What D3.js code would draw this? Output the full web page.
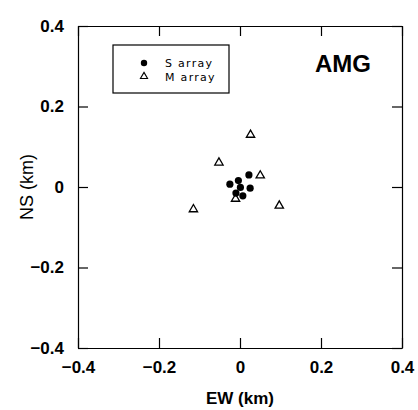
<!DOCTYPE html>
<html>
<head>
<meta charset="utf-8">
<script src="https://cdn.jsdelivr.net/npm/d3@7"></script>
<style>
  body { margin: 0; background: #fff; }
  .axis text { font-family: "Liberation Sans", Arial, sans-serif; font-weight: bold; font-size: 17px; fill: #000; }
  .axis path, .axis line { stroke: #000; stroke-width: 1.2; }
</style>
</head>
<body>
<div class="chart"></div>
<script>
// station offsets (km)
const sEW = [0.022, -0.025, -0.004, 0.001, 0.025, -0.010, 0.007];
const sNS = [0.030, 0.007, 0.016, -0.001, -0.003, -0.015, -0.022];
const mEW = [0.026, -0.052, 0.050, -0.115, 0.097, -0.011];
const mNS = [0.132, 0.063, 0.031, -0.053, -0.044, -0.027];
const ticks = [-0.4, -0.2, 0, 0.2, 0.4];
const legendLabels = ['S array', 'M array'];

const margin = {top: 26, right: 16, bottom: 62, left: 78};
const width = 418 - margin.left - margin.right;
const height = 410 - margin.top - margin.bottom;

const svg = d3.select('.chart')
  .append('svg')
    .attr('width', 418)
    .attr('height', 410)
  .append('g')
    .attr('transform', `translate(${margin.left}, ${margin.top})`);

const x = d3.scaleLinear().domain([-0.4, 0.4]).range([0, width]);
const y = d3.scaleLinear().domain([-0.4, 0.4]).range([height, 0]);

const fmt = d => d === 0 ? '0' : d3.format('.1f')(d).replace('-', '\u2212');

// bottom + left with labels, ticks pointing in
svg.append('g')
    .attr('class', 'axis')
    .attr('transform', `translate(0, ${height})`)
  .call(d3.axisBottom(x).tickValues(ticks).tickFormat(fmt).tickSizeInner(-10).tickSizeOuter(0).tickPadding(13));

svg.append('g')
    .attr('class', 'axis')
  .call(d3.axisLeft(y).tickValues(ticks).tickFormat(fmt).tickSizeInner(-10).tickSizeOuter(0).tickPadding(14));

svg.append('g')
    .attr('class', 'axis')
  .call(d3.axisTop(x).tickValues(ticks).tickFormat('').tickSizeInner(-10).tickSizeOuter(0));

svg.append('g')
    .attr('class', 'axis')
    .attr('transform', `translate(${width}, 0)`)
  .call(d3.axisRight(y).tickValues(ticks).tickFormat('').tickSizeInner(-10).tickSizeOuter(0));

// axis titles
svg.append('text')
  .attr('x', width / 2)
  .attr('y', height + 56)
  .attr('text-anchor', 'middle')
  .style('font-family', '"Liberation Sans", Arial, sans-serif')
  .style('font-weight', 'bold')
  .style('font-size', '17px')
  .text('EW (km)');

svg.append('text')
  .attr('transform', `translate(${-45}, ${height / 2}) rotate(-90)`)
  .attr('text-anchor', 'middle')
  .style('font-family', '"Liberation Sans", Arial, sans-serif')
  .style('font-size', '18px')
  .text('NS (km)');

// station name
svg.append('text')
  .attr('x', 293)
  .attr('y', 46)
  .attr('text-anchor', 'end')
  .style('font-family', '"Liberation Sans", Arial, sans-serif')
  .style('font-weight', 'bold')
  .style('font-size', '24px')
  .text('AMG');

const tri = d3.symbol().type(d3.symbolTriangle).size(30);

// M array (open triangles)
svg.selectAll('.m')
  .data(mEW.map((e, i) => [e, mNS[i]]))
  .enter()
  .append('path')
    .attr('class', 'm')
    .attr('d', tri)
    .attr('transform', d => `translate(${x(d[0])}, ${y(d[1]) + 1})`)
    .attr('fill', '#fff')
    .attr('stroke', '#000')
    .attr('stroke-width', 1.3);

// S array (filled circles)
svg.selectAll('.s')
  .data(sEW.map((e, i) => [e, sNS[i]]))
  .enter()
  .append('circle')
    .attr('class', 's')
    .attr('cx', d => x(d[0]))
    .attr('cy', d => y(d[1]))
    .attr('r', 3.6)
    .attr('fill', '#000');

// legend
const lg = svg.append('g').attr('transform', 'translate(35, 19)');
lg.append('rect')
  .attr('width', 116).attr('height', 48)
  .attr('fill', '#fff').attr('stroke', '#000').attr('stroke-width', 1.2);
lg.append('circle').attr('cx', 31).attr('cy', 18).attr('r', 3.2).attr('fill', '#000');
lg.append('path').attr('d', d3.symbol().type(d3.symbolTriangle).size(22))
  .attr('transform', 'translate(31, 31.5)')
  .attr('fill', '#fff').attr('stroke', '#000').attr('stroke-width', 1.1);
lg.selectAll('.lt')
  .data(legendLabels)
  .enter()
  .append('text')
    .attr('x', 52)
    .attr('y', (d, i) => 22 + i * 13.5)
    .style('font-family', '"DejaVu Sans", sans-serif')
    .style('font-size', '11px')
    .style('letter-spacing', '1.3px')
    .text(d => d);
</script>
</body>
</html>
